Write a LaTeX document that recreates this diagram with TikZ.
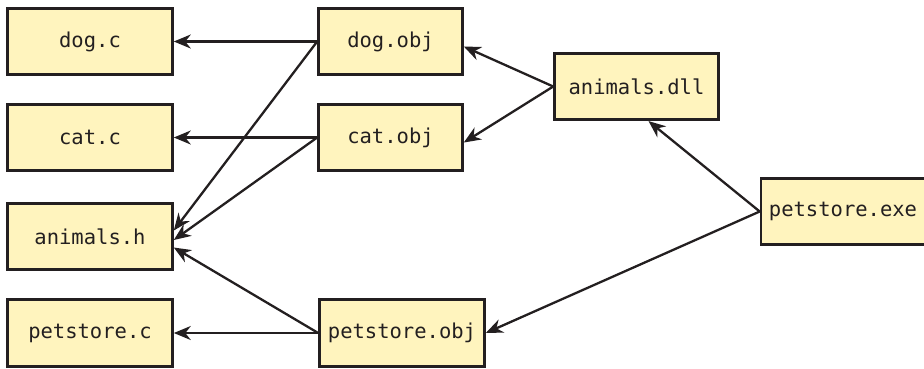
\documentclass[tikz,border=0pt]{standalone}
\usepackage{fontspec}
\setmonofont{DejaVu Sans Mono}
\usetikzlibrary{arrows.meta,positioning}
\definecolor{FileFill}{RGB}{255,244,190}
\definecolor{FileLine}{RGB}{35,31,32}
\begin{document}
\begin{tikzpicture}[
  x=1pt,y=-1pt,
  file/.style={draw=FileLine,fill=FileFill,line width=2.6pt,inner sep=0pt,
               minimum height=66.5pt,minimum width=165pt,
               font=\ttfamily\fontsize{20.5}{24}\selectfont,text=FileLine},
  dep/.style={-{Stealth[length=17pt,width=14pt,inset=5.5pt]},draw=FileLine,line width=2.3pt}
]
\useasboundingbox (0,0) rectangle (924,368);
% sources
\node[file] (dogc) at (90,41.5) {dog.c};
\node[file] (catc) at (90,137.5) {cat.c};
\node[file] (animalsh) at (90,236.5) {animals.h};
\node[file] (petstorec) at (90,333) {petstore.c};
% objects
\node[file,minimum width=144pt] (dogobj) at (390.5,41.5) {dog.obj};
\node[file,minimum width=144pt] (catobj) at (390.5,137.5) {cat.obj};
\node[file] (petstoreobj) at (402,333) {petstore.obj};
% outputs
\node[file,minimum width=164pt] (animalsdll) at (636.5,86.5) {animals.dll};
\node[file,minimum width=164pt] (petstoreexe) at (843,211.5) {petstore.exe};
\draw[dep] (dogobj.west) -- (dogc.east);
\draw[dep] (dogobj.west) -- ([yshift=6pt]animalsh.east);
\draw[dep] (catobj.west) -- (catc.east);
\draw[dep] (catobj.west) -- ([yshift=-3.5pt]animalsh.east);
\draw[dep] (petstoreobj.west) -- (petstorec.east);
\draw[dep] (petstoreobj.west) -- ([yshift=-11pt]animalsh.east);
\draw[dep] (animalsdll.west) -- ([yshift=-5pt]dogobj.east);
\draw[dep] (animalsdll.west) -- ([yshift=-5pt]catobj.east);
\draw[dep] (petstoreexe.west) -- ([xshift=12pt]animalsdll.south);
\draw[dep] (petstoreexe.west) -- (petstoreobj.east);
\end{tikzpicture}
\end{document}
